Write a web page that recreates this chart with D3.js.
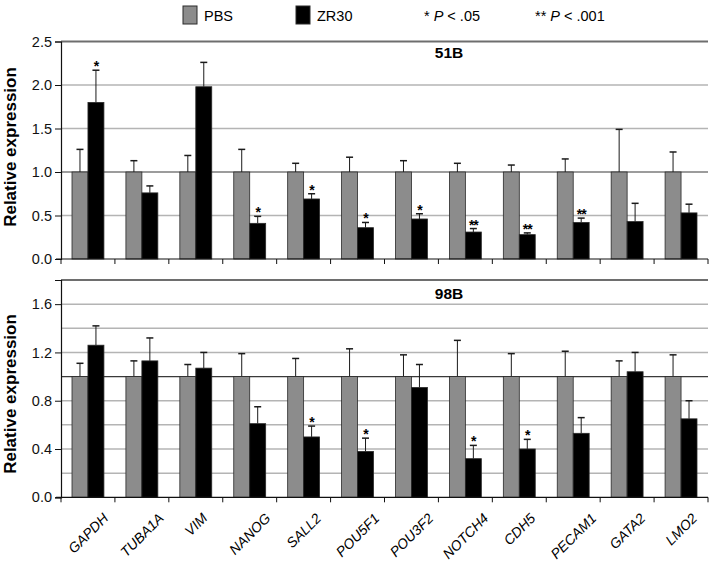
<!DOCTYPE html>
<html>
<head>
<meta charset="utf-8">
<script src="https://cdn.jsdelivr.net/npm/d3@7"></script>
<style>
  body { margin: 0; background: #fff; }
  svg { display: block; font-family: "Liberation Sans", Arial, sans-serif; }
</style>
</head>
<body>
<div id="chart"></div>
<script>
// genes on the x axis
let genes = ['GAPDH', 'TUBA1A', 'VIM', 'NANOG', 'SALL2', 'POU5F1', 'POU3F2', 'NOTCH4', 'CDH5', 'PECAM1', 'GATA2', 'LMO2'];
let series = ['PBS', 'ZR30'];

// 51B panel
let pbs51 = [1, 1, 1, 1, 1, 1, 1, 1, 1, 1, 1, 1];
let pbs51Err = [0.26, 0.13, 0.19, 0.26, 0.10, 0.17, 0.13, 0.10, 0.08, 0.15, 0.49, 0.23];
let zr51 = [1.80, 0.76, 1.98, 0.41, 0.69, 0.36, 0.46, 0.31, 0.28, 0.42, 0.43, 0.53];
let zr51Err = [0.37, 0.08, 0.28, 0.08, 0.06, 0.06, 0.06, 0.04, 0.02, 0.05, 0.21, 0.10];
let sig51 = ['*', '', '', '*', '*', '*', '*', '**', '**', '**', '', ''];

// 98B panel
let pbs98 = [1, 1, 1, 1, 1, 1, 1, 1, 1, 1, 1, 1];
let pbs98Err = [0.11, 0.13, 0.10, 0.19, 0.15, 0.23, 0.18, 0.30, 0.19, 0.21, 0.13, 0.18];
let zr98 = [1.26, 1.13, 1.07, 0.61, 0.50, 0.38, 0.91, 0.32, 0.40, 0.53, 1.04, 0.65];
let zr98Err = [0.16, 0.19, 0.13, 0.14, 0.09, 0.11, 0.19, 0.11, 0.08, 0.13, 0.16, 0.15];
let sig98 = ['', '', '', '', '*', '*', '', '*', '*', '', '', ''];

let ticks51 = [0, 0.5, 1.0, 1.5, 2.0, 2.5];
let ticks98 = [0, 0.4, 0.8, 1.2, 1.6];

let width = 709, height = 561;
let colors = { PBS: '#8c8c8c', ZR30: '#000000' };

let svg = d3.select('#chart').append('svg')
    .attr('width', width)
    .attr('height', height);

let x = d3.scaleBand().domain(genes).range([61, 708]);
let x1 = d3.scaleBand().domain(series).range([11, x.bandwidth() - 11]);

function rows(pbs, pbsErr, zr, zrErr, sig) {
    return genes.map((g, i) => ({
        gene: g,
        bars: [
            { key: 'PBS', value: pbs[i], err: pbsErr[i], sig: '' },
            { key: 'ZR30', value: zr[i], err: zrErr[i], sig: sig[i] }
        ]
    }));
}

function drawPanel(opts) {
    let y = d3.scaleLinear().domain([0, opts.max]).range([opts.bottom, opts.top]);
    let g = svg.append('g');

    // grid
    g.append('g')
        .selectAll('line')
        .data(opts.grid)
        .join('line')
        .attr('x1', 61).attr('x2', 708)
        .attr('y1', d => y(d)).attr('y2', d => y(d))
        .attr('stroke', d => d === 1 ? '#3a3a3a' : '#b4b4b4')
        .attr('stroke-width', d => d === 1 ? 1.2 : 1.5);

    // top frame
    g.append('line')
        .attr('x1', 61).attr('x2', 708)
        .attr('y1', y(opts.max)).attr('y2', y(opts.max))
        .attr('stroke', '#6e6e6e')
        .attr('stroke-width', 2);

    let data = rows(...opts.data);

    let grp = g.append('g')
        .selectAll('g')
        .data(data)
        .join('g')
        .attr('transform', d => `translate(${x(d.gene)},0)`);

    let bar = grp.selectAll('g')
        .data(d => d.bars)
        .join('g');

    // error bars (drawn under bars)
    bar.append('line')
        .attr('x1', d => x1(d.key) + x1.bandwidth() / 2)
        .attr('x2', d => x1(d.key) + x1.bandwidth() / 2)
        .attr('y1', d => y(d.value))
        .attr('y2', d => y(d.value + d.err))
        .attr('stroke', '#1a1a1a')
        .attr('stroke-width', 1);
    bar.append('line')
        .attr('x1', d => x1(d.key) + x1.bandwidth() / 2 - 3.5)
        .attr('x2', d => x1(d.key) + x1.bandwidth() / 2 + 3.5)
        .attr('y1', d => y(d.value + d.err))
        .attr('y2', d => y(d.value + d.err))
        .attr('stroke', '#1a1a1a')
        .attr('stroke-width', 1.5);

    bar.append('rect')
        .attr('x', d => x1(d.key))
        .attr('width', x1.bandwidth())
        .attr('y', d => y(d.value))
        .attr('height', d => y(0) - y(d.value))
        .attr('fill', d => colors[d.key])
        .attr('stroke', '#2a2a2a')
        .attr('stroke-width', 0.8);

    bar.filter(d => d.sig)
        .append('text')
        .attr('x', d => x1(d.key) + x1.bandwidth() / 2)
        .attr('y', d => y(d.value + d.err) + 1)
        .attr('text-anchor', 'middle')
        .attr('font-size', 14)
        .attr('font-weight', 'bold')
        .attr('letter-spacing', -1)
        .text(d => d.sig);

    // y axis
    let yAxis = g.append('g')
        .attr('transform', 'translate(61,0)')
        .call(d3.axisLeft(y).tickValues(opts.ticks).tickFormat(d3.format('.1f')).tickSize(6).tickPadding(3));
    yAxis.select('.domain').attr('stroke', '#111').attr('stroke-width', 1.2);
    yAxis.selectAll('.tick line').attr('stroke', '#111');
    yAxis.selectAll('text')
        .attr('font-size', 14.5)
        .attr('font-family', '"Liberation Sans", Arial, sans-serif')
        .attr('fill', '#111');

    // x axis line with category ticks
    g.append('line')
        .attr('x1', 56).attr('x2', 708)
        .attr('y1', y(0)).attr('y2', y(0))
        .attr('stroke', '#111').attr('stroke-width', 1.2);
    g.append('g')
        .selectAll('line')
        .data(genes.map(d => x(d)).concat([x.range()[1]]))
        .join('line')
        .attr('x1', d => d).attr('x2', d => d)
        .attr('y1', y(0)).attr('y2', y(0) + 5)
        .attr('stroke', '#111');

    // panel title
    g.append('text')
        .attr('x', 449)
        .attr('y', opts.titleY)
        .attr('text-anchor', 'middle')
        .attr('font-size', 15.5)
        .attr('font-weight', 'bold')
        .text(opts.title);

    // y label
    g.append('text')
        .attr('transform', `translate(16,${opts.labelY}) rotate(-90)`)
        .attr('text-anchor', 'middle')
        .attr('font-size', 17)
        .attr('font-weight', 'bold')
        .text('Relative expression');
}

drawPanel({
    data: [pbs51, pbs51Err, zr51, zr51Err, sig51],
    max: 2.5, top: 41.5, bottom: 259,
    grid: [0.5, 1.0, 1.5, 2.0],
    ticks: ticks51,
    title: '51B', titleY: 58, labelY: 147
});

drawPanel({
    data: [pbs98, pbs98Err, zr98, zr98Err, sig98],
    max: 1.8, top: 280, bottom: 497.3,
    grid: [0.2, 0.4, 0.6, 0.8, 1.0, 1.2, 1.4, 1.6],
    ticks: ticks98,
    title: '98B', titleY: 299, labelY: 394
});

// rotated gene labels
let fs = 14;
svg.append('g')
    .selectAll('text')
    .data(genes)
    .join('text')
    .attr('font-size', fs)
    .attr('font-style', 'italic')
    .attr('text-anchor', 'middle')
    .text(d => d)
    .each(function (d) {
        let L = this.getComputedTextLength();
        let h = fs * 0.72;
        let box = (L + h) * 0.707;
        let cx = x(d) + x.bandwidth() / 2 + 0.354 * h;
        let cy = 512 + box / 2 + 0.354 * h;
        d3.select(this).attr('transform', `translate(${cx},${cy}) rotate(-45)`);
    });

// legend
let legend = svg.append('g').attr('font-size', 14.5);
let legendX = { PBS: 183, ZR30: 296 };
series.forEach(s => {
    legend.append('rect')
        .attr('x', legendX[s]).attr('y', 6)
        .attr('width', 14).attr('height', 18)
        .attr('fill', colors[s])
        .attr('stroke', '#2a2a2a');
    legend.append('text')
        .attr('x', legendX[s] + 21).attr('y', 21)
        .text(s);
});
let sigLegend = [
    { x: 424, stars: '*', p: '< .05' },
    { x: 535, stars: '**', p: '< .001' }
];
sigLegend.forEach(d => {
    let t = legend.append('text').attr('x', d.x).attr('y', 21);
    t.append('tspan').text(d.stars + ' ');
    t.append('tspan').attr('font-style', 'italic').text('P');
    t.append('tspan').text(' ' + d.p);
});
</script>
</body>
</html>
